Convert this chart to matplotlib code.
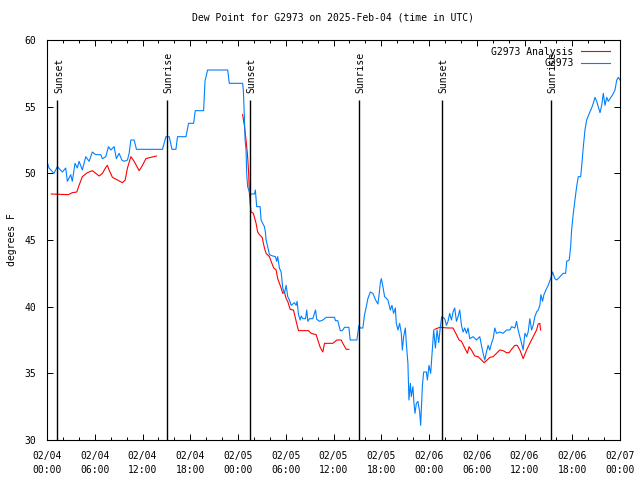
import numpy as np
import matplotlib
matplotlib.use("Agg")
import matplotlib.pyplot as plt

# hours since 02/04 00:00 UTC
obs_hours = [0.0, 0.25, 0.88, 1.30, 1.93, 2.35, 2.56, 2.98, 3.18, 3.52, 3.81, 4.03, 4.44, 4.87, 5.29,
             5.70, 6.13, 6.76, 6.96, 7.39, 7.72, 8.02, 8.43, 8.72, 9.06, 9.40, 9.69, 10.11, 10.32, 10.54,
             10.95, 11.24, 14.51, 14.94, 15.36, 15.70, 16.20, 16.40, 17.46, 17.79, 18.42, 18.63, 19.68,
             19.85, 20.18, 22.70, 22.91, 24.58, 24.67, 24.80, 24.89, 25.01, 25.09, 25.21, 25.52, 26.06,
             26.18, 26.35, 26.78, 26.90, 27.10, 27.32, 27.44, 27.53, 27.73, 27.95, 28.36, 28.70, 28.86,
             28.99, 29.20, 29.42, 29.62, 29.83, 30.05, 30.25, 30.46, 30.68, 31.09, 31.31, 31.43, 31.60,
             31.81, 31.94, 32.14, 32.48, 32.64, 32.77, 32.98, 33.40, 33.74, 33.90, 34.24, 34.66, 35.08,
             36.13, 36.25, 36.54, 36.85, 37.10, 37.39, 37.93, 38.10, 38.94, 39.19, 39.36, 39.69, 39.90,
             40.12, 40.32, 40.62, 40.95, 41.29, 41.58, 41.70, 41.88, 42.01, 42.21, 42.42, 42.84, 43.14,
             43.34, 43.55, 43.77, 43.89, 44.10, 44.31, 44.52, 44.65, 44.81, 45.03, 45.15, 45.35, 45.48,
             45.66, 45.78, 45.98, 46.11, 46.24, 46.41, 46.61, 46.83, 46.95, 47.17, 47.33, 47.67, 47.80,
             48.00, 48.21, 48.43, 48.59, 48.80, 49.01, 49.22, 49.43, 49.60, 49.97, 50.19, 50.39, 50.60,
             50.82, 51.02, 51.23, 51.45, 51.65, 51.86, 52.08, 52.28, 52.49, 52.71, 52.91, 53.12, 53.54,
             53.96, 54.38, 54.59, 54.80, 55.01, 55.22, 55.43, 55.64, 55.85, 56.06, 56.27, 56.48, 56.90,
             57.31, 57.74, 58.16, 58.37, 58.79, 59.00, 59.20, 59.42, 59.63, 59.83, 60.05, 60.26, 60.46,
             60.67, 60.89, 61.09, 61.30, 61.52, 61.72, 61.93, 62.06, 62.27, 62.44, 62.69, 62.98, 63.28,
             63.53, 63.82, 64.04, 64.45, 64.87, 65.17, 65.30, 65.62, 65.80, 65.92, 66.13, 66.34, 66.55,
             66.76, 67.06, 67.18, 67.39, 67.60, 67.81, 68.14, 68.44, 68.64, 68.86, 69.07, 69.27, 69.49,
             69.70, 69.90, 70.12, 70.33, 70.53, 70.75, 71.08, 71.37, 71.59, 71.79, 72.0]
obs_dewpt = [50.9, 50.4, 50.0, 50.5, 50.1, 50.4, 49.4, 49.9, 49.4, 50.75, 50.4, 50.9, 50.25, 51.25, 50.9,
             51.6, 51.4, 51.4, 51.1, 51.25, 52.0, 51.75, 52.0, 51.1, 51.5, 51.0, 50.9, 51.0, 51.5, 52.5,
             52.5, 51.8, 51.8, 52.75, 52.75, 51.8, 51.8, 52.75, 52.75, 53.75, 53.75, 54.7, 54.7,
             56.9, 57.75, 57.75, 56.75, 56.75, 56.25, 54.25, 52.5, 51.75, 50.0, 49.0, 48.45, 48.45,
             48.75, 47.5, 47.5, 46.5, 46.25, 46.0, 45.6, 45.0, 44.5, 43.9, 43.8, 43.75, 43.4,
             43.75, 42.9, 42.6, 41.4, 41.0, 41.6, 40.75, 40.5, 40.1, 40.3, 40.1, 40.4, 39.4,
             39.0, 39.3, 39.1, 39.1, 39.75, 38.9, 39.1, 39.1, 39.75, 39.05, 38.9, 39.0, 39.2,
             39.2, 38.95, 38.95, 38.2, 38.2, 38.45, 38.45, 37.5, 37.5, 38.6, 38.4, 38.4, 39.4,
             40.0, 40.6, 41.1, 41.0, 40.5, 40.2, 40.75, 41.75, 42.1, 41.5, 40.75, 40.5, 39.75,
             40.1, 39.5, 39.9, 38.75, 38.25, 38.75, 38.0, 36.75, 37.75, 38.4, 37.25, 35.75, 33.0,
             34.25, 33.25, 34.0, 32.75, 32.0, 32.75, 32.9, 32.1, 31.1, 34.1, 35.1, 35.1, 34.5,
             35.6, 35.0, 36.9, 38.25, 36.9, 38.25, 37.3, 38.5, 39.25, 39.1, 38.6, 38.9, 39.5,
             39.0, 39.6, 39.9, 38.9, 39.25, 39.75, 38.6, 38.1, 38.4, 38.0, 38.4, 37.6, 37.75,
             37.5, 37.75, 37.1, 36.5, 36.0, 36.6, 37.1, 36.75, 37.25, 37.6, 38.4, 38.0, 38.1,
             38.0, 38.25, 38.25, 38.5, 38.4, 38.9, 38.25, 37.75, 37.25, 36.75, 38.0, 37.75, 38.1,
             39.1, 38.25, 38.6, 39.25, 39.6, 39.75, 40.1, 40.9, 40.4, 40.9, 41.25, 41.6, 42.1,
             42.6, 42.1, 42.0, 42.25, 42.5, 42.5, 43.4, 43.5, 44.5, 45.75, 47.0, 48.0, 49.0,
             49.75, 49.75, 50.5, 52.0, 53.25, 54.0, 54.5, 54.9, 55.25, 55.7, 55.4, 55.0, 54.55,
             55.1, 56.0, 55.1, 55.7, 55.4, 55.6, 55.9, 56.25, 57.0, 57.2, 57.0]

# analysis, nan marks the gaps
ana_hours = [0.54, 2.68, 3.18, 3.74, 4.03, 4.44, 5.07, 5.70, 6.13, 6.55, 6.96, 7.39, 7.59, 7.80, 8.22,
             8.85, 9.48, 9.82, 10.11, 10.54, 10.95, 11.58, 12.00, 12.42, 13.05, 13.76, 19.0,
             24.58, 24.80, 25.01, 25.21, 25.34, 25.43, 25.55, 25.64, 25.93, 26.27, 26.47, 26.69, 27.03,
             27.32, 27.53, 27.95, 28.16, 28.49, 28.79, 28.99, 29.42, 29.62, 29.83, 30.05, 30.25, 30.55,
             30.97, 31.31, 31.60, 32.85, 33.19, 33.82, 34.03, 34.33, 34.66, 34.87, 35.91, 36.42, 36.97,
             37.17, 37.60, 37.93, 43.0,
             48.72, 49.35, 50.39, 51.02, 51.45, 51.78, 52.08, 52.49, 52.83, 53.03, 53.33, 53.75, 54.17,
             54.59, 54.92, 55.22, 55.64, 56.06, 56.48, 56.90, 57.31, 57.74, 58.07, 58.37, 58.79, 59.08,
             59.42, 59.83, 60.26, 60.67, 61.09, 61.52, 61.72, 61.93, 62.02]
ana_dewpt = [48.45, 48.4, 48.55, 48.6, 49.1, 49.75, 50.05, 50.2, 50.0, 49.8, 50.0, 50.45, 50.6, 50.25, 49.7,
             49.5, 49.3, 49.5, 50.4, 51.25, 50.9, 50.2, 50.6, 51.1, 51.2, 51.3, np.nan,
             54.4, 53.6, 52.5, 51.25, 50.0, 48.5, 47.6, 47.1, 47.0, 46.25, 45.6, 45.4, 45.2,
             44.4, 44.0, 43.75, 43.4, 42.9, 42.75, 42.1, 41.4, 41.0, 41.1, 40.6, 40.4, 39.8,
             39.75, 38.9, 38.2, 38.2, 38.0, 37.9, 37.5, 36.95, 36.6, 37.25, 37.25, 37.5, 37.5,
             37.25, 36.8, 36.8, np.nan,
             38.3, 38.45, 38.4, 38.4, 37.9, 37.5, 37.4, 36.9, 36.5, 37.0, 36.75, 36.3, 36.25,
             36.0, 35.8, 35.95, 36.2, 36.25, 36.5, 36.75, 36.7, 36.55, 36.55, 36.8, 37.1, 37.1,
             36.75, 36.1, 36.75, 37.25, 37.75, 38.25, 38.7, 38.75, 38.25]

sun_hours = [1.3, 15.1, 25.45, 39.2, 49.6, 63.35]
sun_names = ["Sunset", "Sunrise", "Sunset", "Sunrise", "Sunset", "Sunrise"]

tick_hours = list(range(0, 73, 6))
tick_labels = ["02/04\n00:00", "02/04\n06:00", "02/04\n12:00", "02/04\n18:00",
               "02/05\n00:00", "02/05\n06:00", "02/05\n12:00", "02/05\n18:00",
               "02/06\n00:00", "02/06\n06:00", "02/06\n12:00", "02/06\n18:00",
               "02/07\n00:00"]

plt.rcParams['font.family'] = 'DejaVu Sans Mono'
plt.rcParams['font.size'] = 7

fig = plt.figure(figsize=(6.4, 4.8), dpi=100)
ax = fig.add_axes([47/640, 40/480, 573/640, 400/480])

ax.plot(ana_hours, ana_dewpt, color="#ff0000", lw=0.8, label="G2973 Analysis")
ax.plot(obs_hours, obs_dewpt, color="#0080ff", lw=0.8, label="G2973")

for h, name in zip(sun_hours, sun_names):
    ax.vlines(h, 30, 55.5, color="black", lw=1.0)
    ax.text(h + 0.2, 56.0, name, rotation=90, ha="center", va="bottom", fontsize=7)

ax.set_xlim(0, 72)
ax.set_ylim(30, 60)
ax.set_xticks(tick_hours)
ax.set_xticklabels(tick_labels, linespacing=1.5)
ax.set_xticks(range(0, 73, 2), minor=True)
ax.set_yticks(range(30, 61, 5))
ax.tick_params(which="both", direction="in", top=True, right=True)
ax.tick_params(which="major", length=4.5, width=0.7)
ax.tick_params(which="minor", length=2.5, width=0.7)
ax.tick_params(axis="x", pad=8)
ax.tick_params(axis="y", pad=8)
for s in ax.spines.values():
    s.set_linewidth(0.8)

ax.set_title("Dew Point for G2973 on 2025-Feb-04 (time in UTC)", fontsize=7, pad=14)
ax.set_ylabel("degrees F", labelpad=5)

ax.legend(loc="upper right", bbox_to_anchor=(0.995, 1.0), frameon=False, markerfirst=False,
          handlelength=3.0, handletextpad=0.8, labelspacing=0.15, borderaxespad=0.3, fontsize=7)

fig.savefig("out.png", dpi=100)
